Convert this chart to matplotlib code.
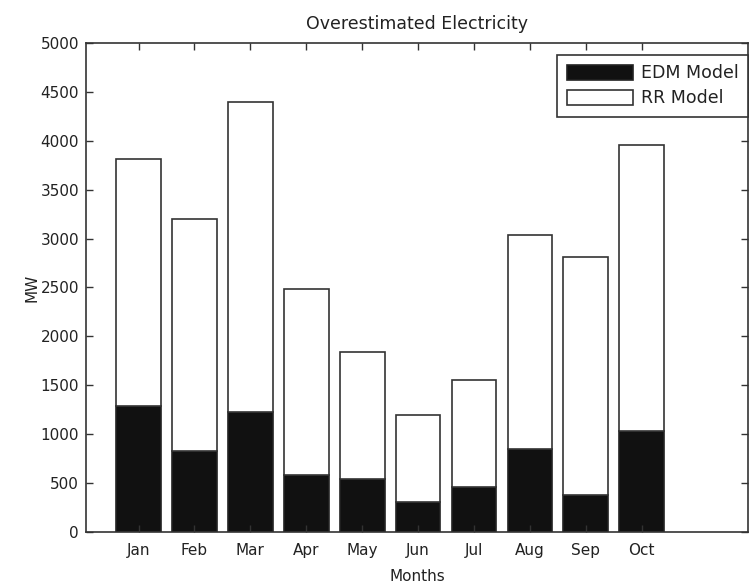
import matplotlib.pyplot as plt

# values (MW)
months = ['Jan', 'Feb', 'Mar', 'Apr', 'May', 'Jun', 'Jul', 'Aug', 'Sep', 'Oct']
edm_model = [1290, 825, 1225, 580, 545, 305, 465, 850, 380, 1035]
rr_model = [2520, 2375, 3175, 1905, 1300, 895, 1085, 2190, 2435, 2925]
y_ticks = [0, 500, 1000, 1500, 2000, 2500, 3000, 3500, 4000, 4500, 5000]

plt.rcParams['font.family'] = ['DejaVu Sans']
txt = '#222222'
fs = 11


def main():
    fig = plt.figure(figsize=(7.51, 5.85), dpi=100)
    ax = fig.add_axes([0.1145, 0.0906, 0.8815, 0.836])

    x = list(range(1, len(months) + 1))
    ax.bar(x, edm_model, width=0.8, color='#111111', edgecolor='#222222',
           linewidth=1.2, label='EDM Model')
    ax.bar(x, rr_model, width=0.8, bottom=edm_model, color='white',
           edgecolor='#333333', linewidth=1.2, label='RR Model')

    ax.set_xlim(0.06, 11.9)
    ax.set_ylim(0, 5000)
    ax.set_xticks(x)
    ax.set_xticklabels(months)
    ax.set_yticks(y_ticks)

    ax.tick_params(direction='in', top=True, right=True, length=5,
                   width=1, colors='#333333', labelcolor=txt, labelsize=fs)
    ax.tick_params(axis='x', pad=8)
    ax.tick_params(axis='y', pad=5)
    for s in ax.spines.values():
        s.set_color('#333333')
        s.set_linewidth(1.2)

    ax.set_title('Overestimated Electricity', fontsize=12.5, color=txt, pad=10)
    ax.set_xlabel('Months', fontsize=fs, color=txt, labelpad=8)
    ax.set_ylabel('MW', fontsize=fs, color=txt, labelpad=1)

    leg = ax.legend(loc='upper right', bbox_to_anchor=(1.0, 0.9755),
                    borderaxespad=0, fontsize=12.5, handlelength=3.8,
                    handleheight=0.9, fancybox=False, framealpha=1,
                    edgecolor='#333333', labelspacing=0.4, borderpad=0.55,
                    handletextpad=0.45)
    leg.get_frame().set_linewidth(1.2)
    for t in leg.get_texts():
        t.set_color(txt)

    fig.savefig('out.png', dpi=100)


main()
